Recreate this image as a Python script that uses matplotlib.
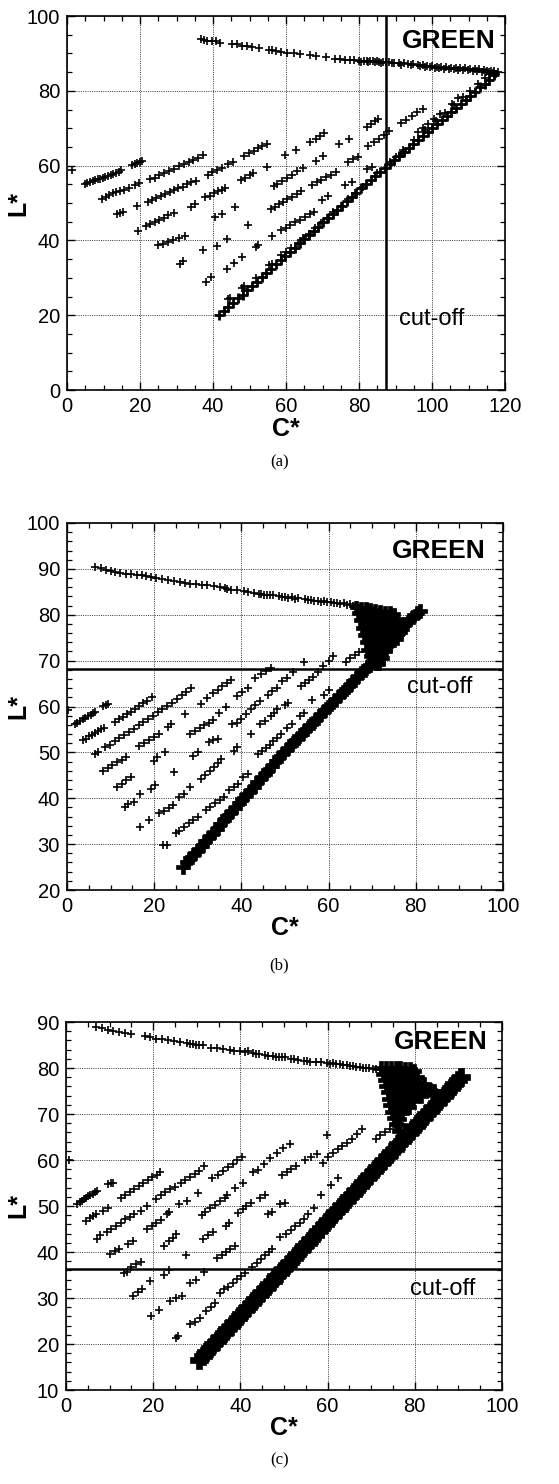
import matplotlib
matplotlib.use('Agg')
import matplotlib.pyplot as plt
from matplotlib.ticker import MultipleLocator

plt.rcParams['font.family'] = ['Liberation Sans', 'DejaVu Sans']

# ---------------- Panel (a) data ----------------
a_top_C = [36.6, 37.6, 38.3, 39.6, 40.8, 42.0, 45.1, 46.5, 48.0, 49.2, 50.6, 52.5, 55.3, 56.1, 57.3,
           58.6, 60.4, 62.2, 63.9, 66.5, 68.3, 70.9, 73.5, 74.8, 76.1, 77.4, 78.7, 80.0, 81.3, 82.2,
           83.0, 83.9, 84.8, 85.6, 86.5, 87.4, 88.3, 89.6, 90.9, 92.2, 93.5, 94.8, 96.1, 97.4, 98.7,
           100.0, 101.3, 102.6, 103.9, 105.2, 106.5, 107.8, 109.1, 110.4, 111.7, 113.0, 114.3, 115.2,
           116.1, 117.0, 118.0]
a_top_L = [93.8, 93.6, 93.4, 93.2, 93.2, 92.9, 92.6, 92.4, 92.1, 91.9, 91.7, 91.4, 91.0, 90.8, 90.7,
           90.5, 90.2, 90.0, 89.8, 89.6, 89.3, 89.0, 88.6, 88.5, 88.3, 88.3, 88.2, 88.1, 88.0, 88.0,
           87.9, 87.9, 87.9, 87.8, 87.8, 87.7, 87.6, 87.5, 87.4, 87.3, 87.2, 87.1, 86.9, 86.8, 86.7,
           86.6, 86.4, 86.4, 86.3, 86.2, 86.2, 86.1, 86.0, 85.9, 85.8, 85.7, 85.5, 85.4,
           85.3, 85.2, 85.0]
a_top2_C = [80.6, 82.6, 84.4, 86.0, 89.0, 91.6, 94.2, 96.8, 98.1, 99.4, 100.7, 102.0, 103.3, 104.6,
            105.9, 107.2, 108.5, 109.8, 111.1, 112.4, 113.7, 114.8, 115.7, 116.6, 117.5]
a_top2_L = [87.8, 87.7, 87.6, 87.5, 87.3, 87.0, 86.8, 86.5, 86.4, 86.3, 86.2, 86.0, 85.9, 85.8,
            85.7, 85.6, 85.6, 85.5, 85.4, 85.3, 85.1, 85.0, 84.9, 84.8, 84.6]

a_s1_C = [1.5, 4.9, 5.6, 6.3, 7.0, 7.7, 8.4, 9.1, 9.8, 10.5, 11.2, 12.0, 12.7, 13.4, 14.2, 14.9,
          17.9, 18.6, 19.3, 20.0, 20.6]
a_s1_L = [58.9, 55.0, 55.3, 55.6, 55.8, 56.1, 56.3, 56.5, 56.7, 57.0, 57.2, 57.5, 57.7, 58.0, 58.3, 58.7,
          60.1, 60.4, 60.7, 61.0, 61.3]
a_s2_C = [9.5, 10.6, 11.6, 12.6, 13.5, 14.5, 15.6, 17.0, 18.6, 19.8, 22.8, 24.0, 25.3, 26.6, 28.0,
          29.4, 30.7, 32.0, 33.3, 34.6, 35.9, 37.3]
a_s2_L = [51.0, 51.7, 52.2, 52.6, 52.9, 53.3, 53.6, 54.1, 54.8, 55.3, 56.3, 56.8, 57.4, 58.0, 58.6,
          59.2, 59.8, 60.4, 61.0, 61.5, 62.1, 62.8]
a_s3_C = [13.6, 14.4, 15.3, 19.3, 22.1, 23.3, 24.5, 25.7, 26.9, 28.1, 29.3, 30.5, 31.7, 32.9, 34.1,
          35.3, 38.6, 39.8, 41.0, 42.4, 44.2, 45.4, 48.5, 49.8, 51.1, 52.3, 53.5, 54.8]
a_s3_L = [47.0, 47.3, 47.5, 49.1, 50.3, 50.8, 51.3, 51.8, 52.4, 52.9, 53.4, 53.9, 54.4, 55.0, 55.5,
          56.0, 57.6, 58.2, 58.8, 59.4, 60.3, 60.9, 62.6, 63.3, 64.0, 64.6, 65.2, 65.9]
a_s4_C = [19.4, 21.6, 22.8, 24.0, 25.2, 26.5, 27.8, 29.2, 33.9, 35.2, 37.9, 39.1, 40.3, 41.5, 42.6,
          43.3, 47.7, 48.9, 50.2, 50.9, 54.9, 59.8, 62.8, 66.7, 68.1, 69.3, 70.4]
a_s4_L = [42.6, 43.9, 44.4, 45.0, 45.5, 46.1, 46.7, 47.3, 49.0, 49.8, 51.5, 52.0, 52.6, 53.1, 53.6,
          54.0, 56.1, 56.7, 57.6, 58.1, 59.7, 62.8, 64.3, 66.2, 67.2, 68.0, 68.8]
a_s5_C = [25.0, 26.4, 27.8, 29.1, 30.7, 32.3, 40.6, 42.4, 45.9, 56.6, 57.5, 58.9, 60.3, 61.7, 63.1,
          64.6, 68.3, 70.0, 74.6, 77.3, 82.3, 83.3, 84.3, 85.3]
a_s5_L = [38.7, 39.1, 39.6, 40.1, 40.7, 41.3, 46.2, 47.1, 48.9, 54.6, 55.1, 55.9, 56.7, 57.6, 58.5,
          59.4, 61.3, 62.7, 65.8, 67.2, 70.3, 71.0, 71.8, 72.5]
a_s6_C = [30.9, 31.7, 37.3, 41.1, 43.7, 49.7, 55.8, 56.9, 58.0, 59.1, 60.4, 61.6, 62.9, 64.1, 67.1,
          68.4, 69.7, 71.0, 72.3, 73.8, 77.0, 78.3, 79.6, 82.6, 84.0, 85.4, 86.8, 88.3, 91.5, 93.0,
          94.4, 96.0, 97.4]
a_s6_L = [33.8, 34.4, 37.3, 38.4, 40.3, 44.0, 48.3, 49.0, 49.6, 50.3, 51.0, 51.7, 52.4, 53.1, 54.9,
          55.5, 56.2, 56.9, 57.6, 58.3, 61.0, 61.7, 62.4, 65.2, 66.2, 67.2, 68.2, 69.3, 71.3, 72.3,
          73.2, 74.2, 75.1]
a_s7_C = [38.1, 39.4, 43.7, 45.8, 48.0, 51.8, 52.3, 56.1, 58.7, 59.9, 61.2, 62.5, 63.9, 65.2, 66.5,
          67.7, 69.8, 71.6, 76.3, 78.0, 82.2, 83.5, 90.0, 91.7, 96.1, 97.5, 99.0, 100.6, 102.2,
          105.6, 107.2]
a_s7_L = [28.9, 30.2, 32.4, 34.0, 35.6, 38.2, 38.7, 41.3, 42.7, 43.3, 44.0, 44.8, 45.5, 46.2, 47.0,
          47.6, 50.7, 52.0, 54.7, 55.6, 59.2, 59.6, 62.3, 63.2, 69.0, 70.1, 71.2, 72.5, 73.9,
          76.6, 78.0]
a_bnd_C = [41.6, 42.9, 44.2, 45.5, 46.8, 48.1, 49.4, 50.7, 52.0, 53.3, 54.6, 55.9, 57.2, 58.5, 59.8,
           61.1, 62.4, 63.7, 65.0, 66.3, 67.6, 68.9, 70.2, 71.5, 72.8, 74.1, 75.4, 76.7, 78.0, 79.3,
           80.6, 81.9, 83.2, 84.5, 85.8, 87.1, 88.4, 89.7, 91.0, 92.3, 93.6, 94.9, 96.2, 97.5, 98.8,
           100.1, 101.4, 102.7, 104.0, 105.3, 106.6, 107.9, 109.2, 110.5, 111.8, 113.1, 114.4,
           115.7, 117.0]
a_bnd_L = [20.0, 21.0, 22.2, 23.3, 24.5, 25.5, 26.8, 27.9, 29.0, 30.1, 31.3, 32.4, 33.6, 34.7, 35.8,
           36.9, 38.1, 39.2, 40.3, 41.5, 42.6, 43.7, 44.8, 46.0, 47.1, 48.2, 49.3, 50.5, 51.6, 52.8,
           53.9, 55.0, 56.1, 57.2, 58.3, 59.4, 60.4, 61.5, 62.6, 63.7, 64.7, 65.8, 66.9, 68.0, 69.0,
           70.1, 71.2, 72.3, 73.3, 74.4, 75.5, 76.6, 77.6, 78.7, 79.8, 80.9, 81.9,
           83.0, 84.1]
a_abv_C = [44.1, 44.6, 48.0, 48.4, 51.8, 55.3, 56.1, 58.7, 60.0, 61.5, 63.4, 64.7, 66.2, 68.0, 69.5,
           71.2, 73.0, 75.0, 77.0, 79.0, 81.0, 85.0, 88.5, 92.0, 95.0, 98.0, 101.0, 103.5, 106.0,
           108.5, 110.5, 112.5, 114.5, 116.0]
a_abv_L = [24.3, 24.7, 27.3, 27.7, 30.0, 33.3, 33.8, 36.0, 36.9, 37.9, 39.3, 40.7, 41.7, 43.3, 44.6,
           45.9, 47.6, 49.2, 51.0, 52.7, 54.3, 57.9, 61.0, 64.2, 66.8, 69.4, 71.9, 74.0, 76.2,
           78.3, 80.0, 81.7, 83.4, 84.6]
a_cutoff = 87.3

# ---------------- Panel (b) data ----------------
b_top_C = [6.5, 7.9, 9.0, 10.1, 11.1, 12.2, 13.6, 14.7, 16.1, 17.2, 18.2, 19.3, 20.4, 21.8, 23.2,
           24.6, 26.0, 27.1, 28.2, 29.6, 31.0, 32.1, 33.8, 35.2, 36.7, 37.7, 39.1, 40.6, 41.6, 43.0,
           44.5, 45.9, 47.3, 48.7, 50.1, 51.6, 53.0, 54.5, 56.0, 57.5, 59.0, 60.5, 62.0, 63.5, 65.0,
           66.5]
b_top_L = [90.4, 90.2, 89.8, 89.5, 89.3, 89.1, 88.9, 88.8, 88.6, 88.6, 88.4, 88.2, 88.1, 87.9, 87.5,
           87.4, 87.1, 86.9, 86.8, 86.6, 86.4, 86.4, 86.2, 86.1, 85.7, 85.5, 85.4, 85.1, 85.0, 84.8,
           84.6, 84.4, 84.3, 84.1, 83.9, 83.8, 83.6, 83.5, 83.3, 83.1, 83.0, 82.8, 82.6, 82.5, 82.3,
           82.1]
b_top2_C = [36.2, 44.0, 45.2, 46.6, 49.4, 50.8, 52.3, 55.2, 56.7, 58.2, 59.7, 61.2, 62.7, 64.2, 65.7]
b_top2_L = [85.8, 84.6, 84.4, 84.2, 83.9, 83.7, 83.5, 83.2, 83.0, 82.8, 82.7, 82.5, 82.3, 82.1, 81.9]
b_s1_C = [0.3, 1.8, 2.4, 3.0, 3.6, 4.2, 4.8, 5.4, 6.0, 6.5, 8.3, 8.9, 9.5]
b_s1_L = [59.3, 56.1, 56.5, 56.9, 57.2, 57.6, 57.9, 58.2, 58.5, 58.8, 60.1, 60.3, 60.5]
b_s2_C = [3.7, 4.3, 5.0, 5.7, 6.4, 7.1, 7.8, 8.6, 11.1, 12.0, 12.9, 13.8, 14.7, 15.6, 16.5, 17.4,
          18.4, 19.5]
b_s2_L = [52.6, 53.0, 53.5, 53.8, 54.2, 54.6, 55.0, 55.4, 56.6, 57.2, 57.7, 58.3, 58.9, 59.5, 60.1,
          60.7, 61.3, 62.0]
b_s3_C = [6.5, 7.2, 8.7, 9.8, 10.9, 12.0, 13.1, 14.2, 15.3, 16.4, 17.5, 18.6, 19.7, 20.8, 21.9,
          23.0, 24.1, 25.2, 26.3, 27.4, 28.5]
b_s3_L = [49.6, 50.1, 51.1, 51.7, 52.4, 53.1, 53.8, 54.5, 55.2, 55.9, 56.6, 57.3, 58.0, 58.7, 59.4,
          60.1, 60.8, 61.6, 62.4, 63.2, 64.0]
b_s4_C = [8.3, 9.3, 10.4, 11.5, 12.6, 13.6, 16.4, 17.6, 18.8, 20.0, 21.1, 23.2, 23.9, 27.1, 30.7,
          32.1, 33.6, 34.6, 35.6, 36.6, 37.5]
b_s4_L = [46.0, 46.6, 47.2, 47.8, 48.4, 48.9, 51.4, 52.1, 52.8, 53.4, 54.0, 55.6, 56.1, 58.3, 60.6,
          61.9, 63.0, 63.7, 64.4, 65.1, 65.8]
b_s5_C = [11.4, 12.5, 13.6, 14.6, 20.0, 20.7, 22.5, 28.2, 29.3, 30.4, 31.5, 32.6, 33.6, 34.8, 36.4,
          38.9, 40.2, 41.4, 43.2, 44.4, 45.6, 46.8]
b_s5_L = [42.4, 43.2, 43.9, 44.6, 48.2, 48.9, 50.0, 54.1, 54.7, 55.3, 55.9, 56.5, 57.0, 58.6, 59.8,
          62.2, 63.1, 64.0, 66.2, 67.0, 67.7, 68.3]
b_s6_C = [13.2, 13.9, 15.4, 16.8, 19.3, 20.2, 24.6, 28.9, 30.0, 32.5, 33.5, 34.6, 37.9, 38.9, 40.0,
          41.1, 42.1, 43.2, 44.3, 46.1, 47.1, 48.2, 49.3, 50.4, 51.8, 54.3]
b_s6_L = [38.1, 38.8, 39.2, 41.0, 42.1, 42.8, 45.7, 49.3, 50.0, 52.2, 52.6, 52.9, 56.1, 56.5, 57.2,
          58.3, 59.4, 60.3, 61.2, 62.6, 63.3, 64.0, 65.5, 66.2, 67.6, 69.8]
b_s7_C = [16.8, 18.9, 21.1, 22.2, 23.3, 24.3, 25.7, 26.8, 28.2, 30.7, 31.7, 32.7, 33.7, 34.6, 35.4,
          38.2, 38.9, 42.1, 44.3, 45.4, 46.8, 47.5, 48.2, 50.0, 50.7, 53.6, 54.5, 55.5, 56.4, 57.5,
          58.8, 60.0, 61.1]
b_s7_L = [33.8, 35.3, 36.7, 37.3, 37.9, 38.5, 40.3, 41.0, 42.4, 44.2, 45.0, 45.9, 46.8, 47.7, 48.6,
          50.4, 51.1, 54.0, 56.1, 56.8, 57.9, 58.6, 59.4, 60.4, 60.8, 64.4, 65.1, 65.8, 66.5, 67.6,
          68.9, 70.0, 70.9]
b_s8_C = [22.1, 22.9, 25.0, 25.7, 26.8, 27.9, 29.0, 30.0, 31.8, 32.9, 34.0, 35.0, 36.0, 37.1, 38.2,
          39.3, 40.4, 41.4, 43.9, 44.8, 45.7, 46.5, 47.3, 48.2, 49.0, 50.4, 51.5, 53.5, 54.3, 56.1,
          58.9, 60.0, 64.0, 65.0, 66.0, 67.0]
b_s8_L = [29.9, 29.9, 32.4, 32.8, 33.8, 34.6, 35.3, 36.0, 37.4, 38.1, 38.9, 39.6, 40.3, 41.7, 42.5,
          43.2, 44.6, 45.3, 49.6, 50.3, 51.0, 51.7, 52.4, 53.2, 54.0, 55.4, 56.1, 57.9, 58.6, 61.5,
          62.6, 63.7, 69.8, 70.5, 71.2, 71.9]
b_band_C = [26.7, 27.5, 28.3, 29.2, 30.0, 30.9, 31.7, 32.6, 33.4, 34.3, 35.1, 36.0, 36.8, 37.7, 38.5,
            39.4, 40.2, 41.1, 41.9, 42.8, 43.6, 44.5, 45.3, 46.2, 47.0, 47.9, 48.7, 49.6, 50.4, 51.3,
            52.1, 53.0, 53.8, 54.7, 55.5, 56.4, 57.2, 58.1, 58.9, 59.8, 60.6, 61.5, 62.3, 63.2, 64.0,
            64.9, 65.7, 66.6, 67.4, 68.3, 69.1, 70.0, 70.8, 71.7, 72.5, 73.4, 74.2, 75.1, 75.9, 76.8,
            77.6, 78.5, 79.3, 80.2, 81.0]
b_band_L = [25.1, 26.0, 26.9, 27.8, 28.7, 29.7, 30.6, 31.5, 32.4, 33.3, 34.3, 35.2, 36.1, 37.0, 37.9,
            38.9, 39.8, 40.7, 41.6, 42.5, 43.5, 44.4, 45.3, 46.2, 47.1, 48.1, 49.0, 49.9, 50.7, 51.6,
            52.4, 53.2, 54.0, 54.8, 55.7, 56.5, 57.3, 58.1, 59.0, 59.8, 60.6, 61.4, 62.2, 63.1, 63.9,
            64.7, 65.5, 66.4, 67.2, 68.0, 68.9, 69.8, 70.7, 71.6, 72.5, 73.4, 74.3, 75.2, 76.1, 77.0,
            77.9, 78.8, 79.6, 80.4, 80.9]
b_blob_C = [66.3, 67.4, 68.5, 69.6, 70.7, 71.8, 72.9, 74.0, 75.0,
            66.8, 67.9, 69.0, 70.1, 71.2, 72.3, 73.4, 74.5, 75.6,
            67.3, 68.4, 69.5, 70.6, 71.7, 72.8, 73.9, 75.0, 76.1, 77.0,
            67.7, 68.8, 69.9, 71.0, 72.1, 73.2, 74.3, 75.4, 76.5,
            68.1, 69.2, 70.3, 71.4, 72.5, 73.6, 74.7, 75.7,
            68.5, 69.6, 70.7, 71.8, 72.9, 74.0,
            68.9, 70.0, 71.1, 72.2, 73.2,
            69.4, 70.4, 71.4, 72.4, 69.8, 70.8, 71.6]
b_blob_L = [81.6, 81.5, 81.4, 81.2, 81.0, 80.9, 80.7, 80.5, 80.2,
            80.3, 80.2, 80.1, 80.0, 79.9, 79.8, 79.6, 79.4, 79.1,
            78.8, 78.7, 78.6, 78.5, 78.4, 78.3, 78.2, 78.0, 77.8, 77.6,
            77.2, 77.1, 77.0, 76.9, 76.8, 76.7, 76.6, 76.4, 76.2,
            75.6, 75.5, 75.4, 75.3, 75.2, 75.1, 75.0, 74.8,
            74.0, 73.9, 73.8, 73.7, 73.6, 73.5,
            72.4, 72.3, 72.2, 72.1, 72.0,
            70.9, 70.8, 70.7, 70.6, 69.4, 69.3, 69.2]
b_cutoff = 68.2

# ---------------- Panel (c) data ----------------
c_top_C = [6.8, 8.2, 9.6, 10.7, 12.1, 13.5, 14.9, 18.1, 19.2, 20.6, 22.0, 23.4, 24.8, 26.2, 27.7,
           29.1, 30.5, 31.5, 33.3, 34.7, 36.1, 37.5, 38.6, 40.0, 41.8, 42.8, 44.2, 45.6, 47.4, 48.8,
           50.2, 51.6, 53.1, 54.5, 55.9, 57.3, 58.4, 59.8, 61.3, 62.8, 64.4, 65.9, 67.4, 68.9, 70.4,
           72.0]
c_top_L = [88.9, 88.6, 88.3, 88.1, 87.8, 87.6, 87.3, 87.0, 86.8, 86.4, 86.3, 86.1, 85.9, 85.7, 85.5,
           85.3, 85.1, 84.9, 84.3, 84.3, 84.1, 83.9, 83.8, 83.6, 83.6, 83.2, 83.0, 82.9, 82.6, 82.4,
           82.3, 82.0, 81.8, 81.6, 81.4, 81.3, 81.3, 81.1, 81.0, 80.8, 80.6, 80.5, 80.2, 80.0, 79.8,
           79.6]
c_top2_C = [28.5, 29.8, 41.0, 43.5, 46.3, 48.1, 49.5, 52.3, 55.2, 60.5, 62.0, 63.6, 65.1, 66.6, 68.1,
            69.6, 71.2]
c_top2_L = [85.3, 85.1, 83.4, 83.1, 82.7, 82.5, 82.3, 81.9, 81.5, 80.9, 80.8, 80.6, 80.4, 80.2, 80.1,
            79.9, 79.7]
c_s1_C = [0.8, 2.6, 3.1, 3.6, 4.1, 4.6, 5.1, 5.6, 6.1, 6.6, 7.2, 9.7, 10.3, 10.8]
c_s1_L = [60.0, 50.4, 50.8, 51.1, 51.5, 51.8, 52.1, 52.4, 52.7, 53.0, 53.2, 54.8, 54.9, 55.0]
c_s2_C = [4.7, 5.4, 6.1, 6.9, 8.6, 9.7, 12.5, 13.6, 14.6, 15.7, 16.7, 17.7, 18.8, 19.8, 20.8, 21.6]
c_s2_L = [46.8, 47.3, 47.8, 48.2, 48.9, 49.6, 51.8, 52.4, 53.0, 53.7, 54.3, 54.9, 55.6, 56.2, 56.8, 57.3]
c_s3_C = [7.2, 7.9, 9.3, 10.4, 11.4, 12.5, 13.6, 14.6, 15.7, 17.1, 18.6, 20.7, 21.8, 22.8, 23.9,
          24.9, 26.3, 27.4, 28.4, 29.5, 30.6, 31.7]
c_s3_L = [42.9, 43.6, 44.3, 45.0, 45.7, 46.4, 47.1, 47.6, 48.3, 49.0, 50.0, 51.6, 52.3, 53.0, 53.6,
          54.2, 55.0, 55.6, 56.3, 57.0, 57.7, 58.6]
c_s4_C = [10.1, 11.2, 12.2, 14.3, 15.4, 18.6, 19.7, 20.7, 21.8, 23.2, 23.6, 26.0, 27.8, 30.3, 33.5,
          34.9, 36.0, 37.1, 38.2, 39.2, 40.3]
c_s4_L = [39.6, 40.2, 40.7, 41.8, 42.5, 45.0, 45.7, 46.4, 46.9, 48.2, 48.6, 50.4, 51.1, 52.9, 56.1,
          56.8, 57.6, 58.4, 59.2, 59.9, 60.7]
c_s5_C = [13.3, 14.0, 15.0, 16.1, 17.2, 22.5, 23.6, 24.6, 25.3, 31.1, 31.9, 33.0, 34.2, 35.3, 36.5,
          37.0, 38.8, 40.6, 43.0, 44.1, 45.3, 46.8, 48.3, 49.8, 51.4]
c_s5_L = [35.4, 35.7, 36.8, 37.4, 37.9, 41.4, 42.3, 43.1, 43.9, 48.0, 48.8, 49.6, 50.3, 51.0, 51.8,
          52.3, 54.0, 55.0, 57.4, 57.8, 59.2, 60.4, 61.5, 62.6, 63.5]
c_s6_C = [15.4, 16.4, 17.5, 19.3, 22.5, 23.6, 27.5, 31.4, 32.6, 33.8, 36.7, 37.4, 39.5, 40.6, 41.3,
          42.4, 44.5, 45.6, 49.5, 50.6, 51.7, 52.7, 54.8, 56.2, 57.6, 59.8]
c_s6_L = [30.4, 31.2, 31.9, 33.6, 35.0, 36.1, 39.3, 42.9, 43.6, 44.3, 45.7, 46.4, 48.5, 49.3, 50.0,
          50.7, 51.8, 52.5, 56.8, 57.4, 58.0, 58.6, 60.0, 60.7, 61.4, 65.4]
c_s7_C = [19.6, 21.4, 23.9, 25.3, 26.7, 28.5, 29.9, 31.7, 34.6, 35.7, 36.7, 37.7, 38.8, 46.3, 47.3,
          49.1, 50.2, 59.0, 60.1, 61.2, 62.3, 63.4, 64.4, 65.5, 66.7, 67.9]
c_s7_L = [26.1, 27.5, 29.3, 29.9, 30.4, 33.2, 33.9, 35.7, 38.6, 39.3, 40.0, 40.7, 41.4, 48.2, 48.6,
          50.4, 50.7, 59.3, 60.7, 61.5, 62.3, 63.0, 63.8, 64.6, 65.7, 66.8]
c_s8_C = [25.3, 25.7, 28.5, 29.6, 30.7, 32.1, 33.2, 34.2, 35.3, 36.3, 37.2, 38.2, 39.2, 40.1, 41.0,
          42.7, 43.8, 44.7, 45.6, 46.5, 47.3, 49.1, 50.5, 51.5, 52.6, 53.6, 54.6, 55.6, 56.9, 58.4,
          60.8, 62.3, 71.1, 72.1, 73.2, 74.3]
c_s8_L = [21.4, 21.8, 24.3, 24.8, 25.7, 27.1, 28.0, 28.9, 31.1, 31.9, 32.5, 33.3, 34.1, 34.8, 35.4,
          36.8, 37.6, 38.5, 39.3, 40.0, 40.7, 43.2, 44.0, 44.8, 45.6, 46.4, 47.2, 48.2, 49.6, 52.5,
          54.6, 56.1, 64.6, 65.4, 66.1, 66.8]
c_band_C = [30.6, 31.4, 32.2, 33.0, 33.8, 34.6, 35.4, 36.2, 37.0, 37.8, 38.6, 39.4, 40.2, 41.0, 41.8,
            42.6, 43.4, 44.2, 45.0, 45.8, 46.6, 47.4, 48.2, 49.0, 49.8, 50.6, 51.4, 52.2, 53.0, 53.8,
            54.6, 55.4, 56.2, 57.0, 57.8, 58.6, 59.4, 60.2, 61.0, 61.8, 62.6, 63.4, 64.2, 65.0, 65.8,
            66.6, 67.4, 68.2, 69.0, 69.8, 70.6, 71.4, 72.2, 73.0, 73.8, 74.6, 75.4, 76.2, 77.0, 77.8,
            78.6, 79.4, 80.2, 81.0, 81.8, 82.6, 83.4, 84.2, 85.0, 85.8, 86.6, 87.4, 88.2, 89.0, 89.8,
            90.5]
c_band_L = [16.6, 17.4, 18.3, 19.1, 19.9, 20.7, 21.5, 22.3, 23.2, 24.0, 24.8, 25.6, 26.5, 27.3, 28.1,
            28.9, 29.7, 30.6, 31.4, 32.2, 33.0, 33.8, 34.7, 35.5, 36.3, 37.1, 37.9, 38.8, 39.6, 40.4,
            41.2, 42.0, 42.9, 43.7, 44.5, 45.3, 46.1, 47.0, 47.8, 48.6, 49.4, 50.2, 51.1, 51.9, 52.7,
            53.5, 54.3, 55.2, 56.0, 56.8, 57.6, 58.4, 59.3, 60.1, 60.9, 61.7, 62.5, 63.4, 64.2, 65.0,
            65.8, 66.6, 67.5, 68.3, 69.1, 69.9, 70.7, 71.6, 72.4, 73.2, 74.0, 74.8, 75.7, 76.5, 77.3,
            78.0]
c_blob_C = [72.3, 73.4, 74.5, 75.6, 76.7, 77.8, 78.9, 79.8,
            72.8, 73.9, 75.0, 76.1, 77.2, 78.3, 79.4, 80.5,
            73.2, 74.3, 75.4, 76.5, 77.6, 78.7, 79.8, 80.9, 82.0,
            73.5, 74.6, 75.7, 76.8, 77.9, 79.0, 80.1, 81.2, 82.3, 83.4, 84.4,
            73.8, 74.9, 76.0, 77.1, 78.2, 79.3, 80.4, 81.5,
            74.1, 75.2, 76.3, 77.4, 78.5, 79.5,
            74.4, 75.5, 76.6, 77.7, 78.6,
            74.8, 75.9, 77.0, 75.2, 76.3, 75.6, 76.4, 76.3]
c_blob_L = [80.0, 80.0, 80.0, 79.9, 79.9, 79.8, 79.7, 79.4,
            78.7, 78.7, 78.6, 78.6, 78.5, 78.4, 78.3, 78.1,
            77.4, 77.4, 77.3, 77.2, 77.1, 77.0, 76.9, 76.8, 76.6,
            76.1, 76.0, 76.0, 75.9, 75.8, 75.7, 75.6, 75.5, 75.4, 75.3, 75.0,
            74.7, 74.6, 74.5, 74.4, 74.3, 74.2, 74.1, 74.0,
            73.3, 73.2, 73.1, 73.0, 72.9, 72.8,
            71.9, 71.8, 71.7, 71.6, 71.5,
            70.5, 70.4, 70.3, 69.1, 69.0, 67.8, 67.6, 66.4]
c_cutoff = 36.2

# ---------------- figure ----------------
fig = plt.figure(figsize=(5.59, 14.84), dpi=100)
W, H = 559.0, 1484.0


def make_axes(left, top, right, bottom):
    return fig.add_axes([left / W, 1 - bottom / H, (right - left) / W, (bottom - top) / H])


def style(ax, xlim, ylim, xmaj, xmin, ymaj, ymin, ylab_x):
    ax.set_xlim(*xlim)
    ax.set_ylim(*ylim)
    ax.xaxis.set_major_locator(MultipleLocator(xmaj))
    ax.xaxis.set_minor_locator(MultipleLocator(xmin))
    ax.yaxis.set_major_locator(MultipleLocator(ymaj))
    ax.yaxis.set_minor_locator(MultipleLocator(ymin))
    ax.tick_params(which='both', direction='in', top=True, right=True, labelsize=14.5,
                   colors='black', pad=5)
    ax.tick_params(which='major', length=6, width=1.0)
    ax.tick_params(which='minor', length=3.5, width=0.9)
    ax.grid(True, which='major', color='#333333', linewidth=0.7, linestyle=(0, (1, 1.3)))
    ax.set_axisbelow(True)
    for s in ax.spines.values():
        s.set_linewidth(1.2)
    ax.set_xlabel('C*', fontsize=18, fontweight='bold')
    ax.set_ylabel('L*', fontsize=18, fontweight='bold')
    ax.xaxis.set_label_coords(0.5, -0.072)
    ax.yaxis.set_label_coords(ylab_x, 0.5)


def pts(ax, C, L, ms=6, mew=1.2, marker='+'):
    ax.plot(C, L, linestyle='none', marker=marker, ms=ms, mew=mew, color='black', zorder=3)


# Panel (a)
ax_a = make_axes(67, 16, 505, 390)
style(ax_a, (0, 120), (0, 100), 20, 5, 20, 5, -0.084)
for C, L in [(a_top_C, a_top_L), (a_top2_C, a_top2_L), (a_s1_C, a_s1_L), (a_s2_C, a_s2_L),
             (a_s3_C, a_s3_L), (a_s4_C, a_s4_L), (a_s5_C, a_s5_L), (a_s6_C, a_s6_L),
             (a_s7_C, a_s7_L), (a_abv_C, a_abv_L)]:
    pts(ax_a, C, L)
pts(ax_a, a_bnd_C, a_bnd_L, ms=6.5, mew=2.0)
ax_a.axvline(a_cutoff, color='black', linewidth=1.8, zorder=4)
ax_a.text(117.3, 93.2, 'GREEN', ha='right', va='center', fontsize=19, fontweight='bold')
ax_a.text(90.9, 19.0, 'cut-off', ha='left', va='center', fontsize=17)

# Panel (b)
ax_b = make_axes(67, 523, 503, 890)
style(ax_b, (0, 100), (20, 100), 20, 5, 10, 2, -0.084)
for C, L in [(b_top_C, b_top_L), (b_top2_C, b_top2_L), (b_s1_C, b_s1_L), (b_s2_C, b_s2_L),
             (b_s3_C, b_s3_L), (b_s4_C, b_s4_L), (b_s5_C, b_s5_L), (b_s6_C, b_s6_L),
             (b_s7_C, b_s7_L), (b_s8_C, b_s8_L)]:
    pts(ax_b, C, L)
pts(ax_b, b_band_C, b_band_L, ms=10, mew=0.5, marker='P')
pts(ax_b, b_blob_C, b_blob_L, ms=9, mew=0.5, marker='P')
ax_b.axhline(b_cutoff, color='black', linewidth=1.8, zorder=4)
ax_b.text(96.0, 93.8, 'GREEN', ha='right', va='center', fontsize=19, fontweight='bold')
ax_b.text(78.0, 64.3, 'cut-off', ha='left', va='center', fontsize=17)

# Panel (c)
ax_c = make_axes(66, 1022, 502, 1390)
style(ax_c, (0, 100), (10, 90), 20, 5, 10, 2, -0.082)
for C, L in [(c_top_C, c_top_L), (c_top2_C, c_top2_L), (c_s1_C, c_s1_L), (c_s2_C, c_s2_L),
             (c_s3_C, c_s3_L), (c_s4_C, c_s4_L), (c_s5_C, c_s5_L), (c_s6_C, c_s6_L),
             (c_s7_C, c_s7_L), (c_s8_C, c_s8_L)]:
    pts(ax_c, C, L)
pts(ax_c, c_band_C, c_band_L, ms=13, mew=0.5, marker='P')
pts(ax_c, c_blob_C, c_blob_L, ms=10, mew=0.5, marker='P')
ax_c.axhline(c_cutoff, color='black', linewidth=1.8, zorder=4)
ax_c.text(96.8, 85.7, 'GREEN', ha='right', va='center', fontsize=19, fontweight='bold')
ax_c.text(78.9, 32.0, 'cut-off', ha='left', va='center', fontsize=17)

# captions
for y, lab in [(462, '(a)'), (965, '(b)'), (1460, '(c)')]:
    fig.text(0.5, 1 - y / H, lab, ha='center', va='center', fontsize=12,
             family=['Liberation Serif', 'DejaVu Serif'])

fig.savefig('out.png', dpi=100)
